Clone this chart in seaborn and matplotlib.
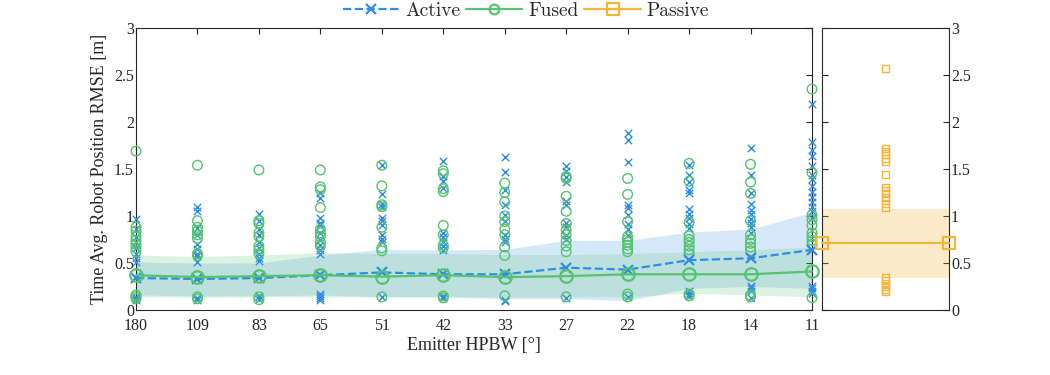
import seaborn as sns
import matplotlib.pyplot as plt
import numpy as np
import pandas as pd

# Categorias del eje x (HPBW del emisor)
categories = ['180', '109', '83', '65', '51', '42', '33', '27', '22', '18', '14', '11']

# Medias y bandas (Active / Fused)
active_mean = [0.34, 0.33, 0.34, 0.37, 0.40, 0.38, 0.38, 0.45, 0.43, 0.53, 0.55, 0.64]
active_lo = [0.16, 0.15, 0.15, 0.16, 0.14, 0.14, 0.12, 0.12, 0.10, 0.23, 0.25, 0.23]
active_hi = [0.51, 0.50, 0.50, 0.585, 0.645, 0.64, 0.645, 0.74, 0.74, 0.83, 0.86, 1.04]
fused_mean = [0.37, 0.35, 0.36, 0.37, 0.355, 0.37, 0.35, 0.36, 0.38, 0.38, 0.38, 0.41]
fused_lo = [0.14, 0.135, 0.14, 0.14, 0.14, 0.14, 0.14, 0.14, 0.14, 0.18, 0.16, 0.14]
fused_hi = [0.585, 0.57, 0.585, 0.61, 0.60, 0.60, 0.59, 0.59, 0.60, 0.62, 0.64, 0.67]

# Puntos individuales por categoria
active_pts = [
    [0.97, 0.86, 0.78, 0.72, 0.66, 0.60, 0.55, 0.51, 0.14, 0.12, 0.11],
    [1.10, 1.05, 0.87, 0.80, 0.70, 0.65, 0.60, 0.57, 0.51, 0.13, 0.11],
    [1.02, 0.95, 0.86, 0.80, 0.72, 0.66, 0.60, 0.55, 0.52, 0.15, 0.12],
    [1.24, 1.19, 0.98, 0.93, 0.90, 0.82, 0.75, 0.69, 0.64, 0.60, 0.17, 0.15, 0.13, 0.11],
    [1.54, 1.23, 1.13, 1.10, 0.98, 0.95, 0.90, 0.80, 0.76, 0.72, 0.14],
    [1.59, 1.43, 1.37, 1.30, 0.82, 0.78, 0.72, 0.68, 0.64, 0.15, 0.13],
    [1.63, 1.47, 1.28, 1.12, 1.01, 0.95, 0.80, 0.76, 0.72, 0.11, 0.10],
    [1.53, 1.48, 1.41, 1.36, 1.16, 1.12, 0.93, 0.88, 0.80, 0.76, 0.13],
    [1.88, 1.81, 1.57, 1.12, 1.08, 1.01, 0.91, 0.86, 0.80, 0.14],
    [1.54, 1.44, 1.36, 1.28, 1.24, 1.07, 1.02, 0.98, 0.92, 0.87, 0.20, 0.17, 0.15],
    [1.72, 1.44, 1.24, 1.13, 1.06, 1.02, 0.97, 0.93, 0.88, 0.82, 0.26, 0.23, 0.20, 0.13],
    [2.19, 1.79, 1.70, 1.64, 1.53, 1.44, 1.39, 1.32, 1.26, 1.20, 1.15, 1.10, 1.05, 0.98,
     0.26, 0.23, 0.20, 0.18],
]
fused_pts = [
    [1.69, 0.88, 0.84, 0.78, 0.74, 0.70, 0.66, 0.62, 0.16, 0.14, 0.12],
    [1.54, 0.95, 0.88, 0.84, 0.80, 0.76, 0.60, 0.58, 0.14, 0.12],
    [1.49, 0.95, 0.92, 0.82, 0.78, 0.68, 0.64, 0.60, 0.14, 0.11],
    [1.49, 1.31, 1.28, 1.09, 0.86, 0.82, 0.78, 0.72, 0.68],
    [1.54, 1.32, 1.12, 1.10, 0.88, 0.66, 0.63, 0.14],
    [1.48, 1.45, 1.29, 1.26, 0.90, 0.80, 0.69, 0.66, 0.15, 0.13],
    [1.35, 1.25, 1.15, 1.00, 0.94, 0.86, 0.80, 0.67, 0.58, 0.15],
    [1.42, 1.40, 1.21, 1.05, 0.92, 0.85, 0.80, 0.74, 0.68, 0.62, 0.14],
    [1.40, 1.23, 0.94, 0.78, 0.75, 0.72, 0.69, 0.65, 0.62, 0.17, 0.14],
    [1.56, 1.37, 0.93, 0.79, 0.75, 0.72, 0.68, 0.64, 0.60, 0.17, 0.15],
    [1.55, 1.36, 1.24, 0.95, 0.80, 0.75, 0.71, 0.67, 0.63, 0.16, 0.14],
    [2.35, 1.46, 1.01, 0.96, 0.90, 0.82, 0.78, 0.74, 0.70, 0.13],
]

# Passive (panel derecho)
passive_pts = [2.57, 1.72, 1.69, 1.66, 1.61, 1.58, 1.44, 1.30, 1.27, 1.24, 1.20, 1.17,
               1.13, 1.09, 0.34, 0.31, 0.28, 0.25, 0.22, 0.20]
passive_mean = 0.71
passive_lo = 0.34
passive_hi = 1.075

# Colores
c_active = '#2f8de6'
c_fused = '#55c46e'
c_passive = '#f5b637'

sns.set_theme(style="white")
plt.rcParams['font.family'] = ['Liberation Serif', 'DejaVu Serif']

# Tablas largas para seaborn
xpos = np.arange(len(categories))
df_act = pd.DataFrame([(i, v) for i, pts in enumerate(active_pts) for v in pts], columns=['x', 'y'])
df_fus = pd.DataFrame([(i, v) for i, pts in enumerate(fused_pts) for v in pts], columns=['x', 'y'])
df_pas = pd.DataFrame({'x': [0.5] * len(passive_pts), 'y': passive_pts})

fig = plt.figure(figsize=(10.5, 3.75), dpi=100)
ax = fig.add_axes([136 / 1050, 1 - 310 / 375, 676 / 1050, 282 / 375])
ax2 = fig.add_axes([822 / 1050, 1 - 310 / 375, 127 / 1050, 282 / 375])

# Bandas
ax.fill_between(xpos, active_lo, active_hi, color=c_active, alpha=0.2, lw=0)
ax.fill_between(xpos, fused_lo, fused_hi, color=c_fused, alpha=0.2, lw=0)

# Puntos individuales
sns.scatterplot(data=df_act, x='x', y='y', marker='x', color=c_active, s=28,
                linewidth=1.0, clip_on=False, ax=ax, zorder=3)
sns.scatterplot(data=df_fus, x='x', y='y', marker='o', facecolors='none', edgecolor=c_fused,
                color=c_fused, s=48, linewidth=1.0, clip_on=False, ax=ax, zorder=3)

# Lineas de media
sns.lineplot(x=xpos, y=active_mean, color=c_active, linestyle='--', lw=1.6, marker='x',
             markersize=7, markeredgecolor=c_active, markeredgewidth=1.6,
             clip_on=False, ax=ax, zorder=4)
sns.lineplot(x=xpos, y=fused_mean, color=c_fused, linestyle='-', lw=1.6, marker='o',
             markersize=9, markerfacecolor='none', markeredgecolor=c_fused,
             markeredgewidth=1.6, clip_on=False, ax=ax, zorder=4)

ax.set_xlim(0, len(categories) - 1)
ax.set_ylim(0, 3)
ax.set_xticks(xpos)
ax.set_xticklabels(categories)
ax.set_yticks([0, 0.5, 1, 1.5, 2, 2.5, 3])
ax.set_yticklabels(['0', '0.5', '1', '1.5', '2', '2.5', '3'])
ax.tick_params(direction='in', length=4, width=0.8, top=True, right=True,
               labelsize=11.5, colors='#262626')
ax.tick_params(axis='x', pad=6)
ax.tick_params(axis='y', pad=1.5)
ax.set_xlabel('Emitter HPBW [°]', fontsize=13, labelpad=2)
ax.set_ylabel('Time Avg. Robot Position RMSE [m]', fontsize=13, labelpad=4)

# Panel Passive
ax2.axhspan(passive_lo, passive_hi, color=c_passive, alpha=0.27, lw=0)
sns.scatterplot(data=df_pas, x='x', y='y', marker='s', facecolors='none', edgecolor=c_passive,
                color=c_passive, s=26, linewidth=1.0, ax=ax2, zorder=3)
sns.lineplot(x=[0, 1], y=[passive_mean, passive_mean], color=c_passive, lw=1.6, marker='s',
             markersize=9, markerfacecolor='none', markeredgecolor=c_passive,
             markeredgewidth=1.6, clip_on=False, ax=ax2, zorder=4)
ax2.set_xlim(0, 1)
ax2.set_ylim(0, 3)
ax2.set_xticks([])
ax2.set_yticks([0, 0.5, 1, 1.5, 2, 2.5, 3])
ax2.set_yticklabels(['0', '0.5', '1', '1.5', '2', '2.5', '3'])
ax2.yaxis.tick_right()
ax2.tick_params(direction='in', length=4, width=0.8, left=True, right=True,
                labelleft=False, labelright=True, labelsize=11.5, pad=1.5, colors='#262626')
ax2.set_xlabel('')
ax2.set_ylabel('')

for a in (ax, ax2):
    for sp in a.spines.values():
        sp.set_color('#262626')
        sp.set_linewidth(0.8)

# Leyenda
h_act = plt.Line2D([], [], color=c_active, ls='--', lw=1.6, marker='x', ms=7, mew=1.6)
h_fus = plt.Line2D([], [], color=c_fused, ls='-', lw=1.6, marker='o', ms=7, mew=1.6, mfc='none')
h_pas = plt.Line2D([], [], color=c_passive, ls='-', lw=1.6, marker='s', ms=9, mew=1.6, mfc='none')
fig.legend([h_act, h_fus, h_pas], ['Active', 'Fused', 'Passive'], loc='center',
           bbox_to_anchor=(526 / 1050, 1 - 11 / 375), ncol=3, frameon=False,
           handlelength=2.9, handletextpad=0.3, columnspacing=0.3,
           prop={'family': 'cmr10', 'size': 14})

fig.savefig('out.png', dpi=100)
